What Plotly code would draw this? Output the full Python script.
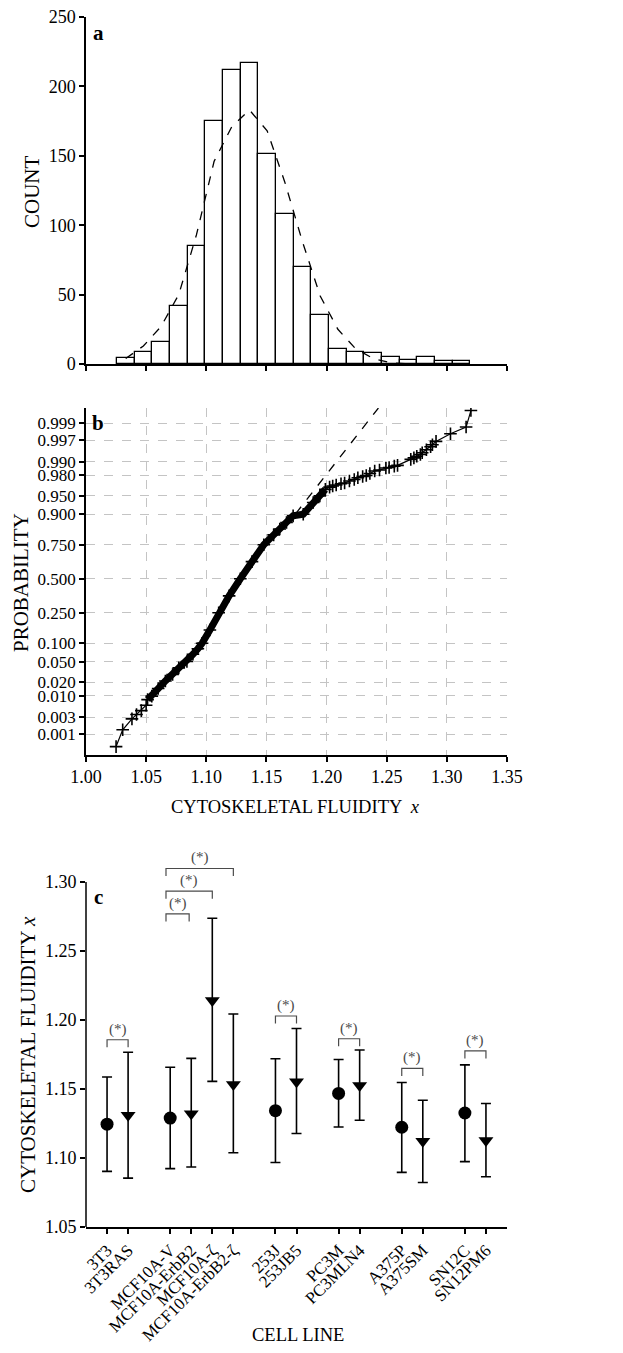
import plotly.graph_objects as go
from statistics import NormalDist

# ---------------- Panel a: histogram ----------------
hist_bin_centers = [1.0330, 1.0477, 1.0624, 1.0771, 1.0918, 1.1065, 1.1212, 1.1359, 1.1506, 1.1653,
                    1.1800, 1.1947, 1.2094, 1.2241, 1.2388, 1.2535, 1.2682, 1.2829, 1.2976, 1.3123]
hist_counts = [4, 9, 16, 42, 85, 175, 212, 217, 151, 108, 70, 35, 11, 9, 8, 5, 3, 5, 2, 2]
hist_bin_width = 0.0147
fit_curve_x = [1.0330, 1.0477, 1.0624, 1.0771, 1.0918, 1.1065, 1.1212, 1.1359, 1.1506, 1.1653,
               1.1800, 1.1947, 1.2094, 1.2241, 1.2388, 1.2535, 1.2682]
fit_curve_count = [3.9, 13, 27, 50, 93, 146, 171, 183, 168, 131, 88, 49, 25, 11, 4, 0.8, 0.1]

# ---------------- Panel b: normal probability plot ----------------
prob_low_x = [1.0250, 1.0305, 1.0382, 1.0420, 1.0460, 1.0500]
prob_low_p = [0.00043, 0.00135, 0.0027, 0.0035, 0.0044, 0.0060]
prob_body_x = [1.0512, 1.0547, 1.0600, 1.0660, 1.0720, 1.0771, 1.0839, 1.0889, 1.0930, 1.0965,
               1.1030, 1.1103, 1.1190, 1.1283, 1.1380, 1.1478, 1.1560, 1.1611, 1.1667, 1.1722,
               1.1806, 1.1889, 1.1944, 1.1990]
prob_body_p = [0.0082, 0.0099, 0.0146, 0.0212, 0.0287, 0.0384, 0.050, 0.0668, 0.0823, 0.100,
               0.154, 0.250, 0.367, 0.500, 0.633, 0.750, 0.808, 0.838, 0.868, 0.894,
               0.900, 0.935, 0.950, 0.962]
prob_high_x = [1.2025, 1.2051, 1.2080, 1.2120, 1.2150, 1.2190, 1.2230, 1.2260, 1.2300, 1.2330,
               1.2360, 1.2400, 1.2440, 1.2493, 1.2520, 1.2563, 1.2590, 1.2700, 1.2726, 1.2750,
               1.2780, 1.2795, 1.2830, 1.2865, 1.2880, 1.2910, 1.3030, 1.3160, 1.3200]
prob_high_p = [0.9656, 0.9671, 0.9686, 0.9704, 0.9713, 0.9738, 0.9756, 0.9775, 0.9788, 0.9798,
               0.9817, 0.9838, 0.9846, 0.9861, 0.9864, 0.9873, 0.9878, 0.9911, 0.9918, 0.9925,
               0.9932, 0.9938, 0.9948, 0.9956, 0.9961, 0.9968, 0.9980, 0.9987, 0.99958]
fit_line_x = [1.165, 1.2431]
fit_line_p = [0.843, 0.99965]
prob_ticks = [0.001, 0.003, 0.010, 0.020, 0.050, 0.100, 0.250, 0.500, 0.750, 0.900,
              0.950, 0.980, 0.990, 0.997, 0.999]
prob_tick_labels = ["0.001", "0.003", "0.010", "0.020", "0.050", "0.100", "0.250", "0.500",
                    "0.750", "0.900", "0.950", "0.980", "0.990", "0.997", "0.999"]
fluidity_ticks = [1.00, 1.05, 1.10, 1.15, 1.20, 1.25, 1.30, 1.35]
fluidity_tick_labels = ["1.00", "1.05", "1.10", "1.15", "1.20", "1.25", "1.30", "1.35"]

# ---------------- Panel c: cell lines ----------------
cell_lines = ["3T3", "3T3RAS", "MCF10A-V", "MCF10A-ErbB2", "MCF10A-ζ", "MCF10A-ErbB2-ζ",
              "253J", "253JB5", "PC3M", "PC3MLN4", "A375P", "A375SM", "SN12C", "SN12PM6"]
cell_pos = [1, 2, 4, 5, 6, 7, 9, 10, 12, 13, 15, 16, 18, 19]
cell_kind = ["parent", "derived", "parent", "derived", "derived", "derived",
             "parent", "derived", "parent", "derived", "parent", "derived", "parent", "derived"]
cell_mean = [1.1245, 1.1309, 1.1289, 1.1321, 1.2142, 1.1532, 1.1343, 1.1552,
             1.1468, 1.1525, 1.1223, 1.1122, 1.1326, 1.1127]
cell_upper = [1.1587, 1.1766, 1.1658, 1.1722, 1.2737, 1.2044, 1.1719, 1.1938,
              1.1714, 1.1783, 1.1547, 1.1419, 1.1675, 1.1395]
cell_lower = [1.0903, 1.0854, 1.0923, 1.0935, 1.1555, 1.1038, 1.0967, 1.1178,
              1.1225, 1.1274, 1.0896, 1.0822, 1.0974, 1.0864]
c_yticks = [1.05, 1.10, 1.15, 1.20, 1.25, 1.30]
c_ytick_labels = ["1.05", "1.10", "1.15", "1.20", "1.25", "1.30"]
sig_left = [1, 3.8, 3.8, 3.8, 9, 12, 15, 18]
sig_right = [2, 4.9, 6, 7, 10, 13, 16, 19]
sig_level = [1.1857, 1.2769, 1.2934, 1.3098, 1.2029, 1.1864, 1.1650, 1.1776]
sig_leg = 0.0055

FONT = "Liberation Serif"
BLACK = "#000000"

nd = NormalDist()
to_z = lambda ps: [nd.inv_cdf(p) for p in ps]

fig = go.Figure()

# Panel a
fig.add_trace(go.Bar(x=hist_bin_centers, y=hist_counts, width=hist_bin_width,
                     marker=dict(color="white", line=dict(color=BLACK, width=1.3)),
                     xaxis="x", yaxis="y", showlegend=False))
fig.add_trace(go.Scatter(x=fit_curve_x, y=fit_curve_count, mode="lines",
                         line=dict(color=BLACK, width=1.3, dash="dash"),
                         xaxis="x", yaxis="y", showlegend=False))

# Panel b
all_x = prob_low_x + prob_body_x + prob_high_x
all_p = prob_low_p + prob_body_p + prob_high_p
fig.add_trace(go.Scatter(x=fit_line_x, y=to_z(fit_line_p), mode="lines",
                         line=dict(color=BLACK, width=1.3, dash="dash"),
                         xaxis="x2", yaxis="y2", showlegend=False))
fig.add_trace(go.Scatter(x=prob_body_x, y=to_z(prob_body_p), mode="lines",
                         line=dict(color=BLACK, width=7),
                         xaxis="x2", yaxis="y2", showlegend=False))
fig.add_trace(go.Scatter(x=all_x, y=to_z(all_p), mode="lines+markers",
                         line=dict(color=BLACK, width=1.2),
                         marker=dict(symbol="cross-thin", size=9, line=dict(color=BLACK, width=1.6)),
                         xaxis="x2", yaxis="y2", showlegend=False))

# Panel c
for kind, sym in (("parent", "circle"), ("derived", "triangle-down")):
    idx = [i for i, k in enumerate(cell_kind) if k == kind]
    fig.add_trace(go.Scatter(
        x=[cell_pos[i] for i in idx], y=[cell_mean[i] for i in idx], mode="markers",
        marker=dict(symbol=sym, size=13, color=BLACK),
        error_y=dict(type="data", symmetric=False,
                     array=[cell_upper[i] - cell_mean[i] for i in idx],
                     arrayminus=[cell_mean[i] - cell_lower[i] for i in idx],
                     color=BLACK, thickness=1.6, width=5),
        xaxis="x3", yaxis="y3", showlegend=False, cliponaxis=False))

shapes = []
annotations = []
for l, r, lev in zip(sig_left, sig_right, sig_level):
    shapes.append(dict(type="path", xref="x3", yref="y3",
                       path=f"M {l},{lev - sig_leg} L {l},{lev} L {r},{lev} L {r},{lev - sig_leg}",
                       line=dict(color="#4a4a4a", width=1.2)))
    annotations.append(dict(x=(l + r) / 2, y=lev, xref="x3", yref="y3", text="(*)",
                            showarrow=False, yanchor="bottom", yshift=0,
                            font=dict(family=FONT, size=15, color="#4a4a4a")))
# y-axis line of panel c (only up to 1.30)
shapes.append(dict(type="line", xref="x3 domain", yref="y3", x0=0, x1=0,
                   y0=c_yticks[0], y1=c_yticks[-1], line=dict(color=BLACK, width=1.5)))


# The page body has an 8px default margin; the figure is sized so it fits the window.
PAGE_OFF = 8
W, H = 623 - PAGE_OFF, 1353 - PAGE_OFF
ml, mr, mt, mb = 86 - PAGE_OFF, 116, 17 - PAGE_OFF, 126
ph = H - mt - mb


def py(pix):
    # reference-pixel row -> paper fraction
    return (1353 - mb - pix) / ph


def ann(text, x, y, size, bold=False, angle=0, xshift=0, yshift=0, xanchor="center", yanchor="middle"):
    annotations.append(dict(text=f"<b>{text}</b>" if bold else text, x=x, y=y, xref="paper", yref="paper",
                            showarrow=False, textangle=angle, xshift=xshift, yshift=yshift,
                            xanchor=xanchor, yanchor=yanchor,
                            font=dict(family=FONT, size=size, color=BLACK)))


ann("a", 0, py(33), 21, bold=True, xshift=12)
ann("b", 0, py(423), 21, bold=True, xshift=12)
ann("c", 0, py(897), 21, bold=True, xshift=12)
ann("COUNT", 0, py(192), 21, angle=-90, xshift=32 - 86)
ann("PROBABILITY", 0, py(583), 21, angle=-90, xshift=21 - 86)
ann("CYTOSKELETAL FLUIDITY <i>x</i>", 0, py(1055), 21, angle=-90, xshift=28 - 86)
ann("CYTOSKELETAL FLUIDITY  <i>x</i>", 0.5, py(807), 18.5, xshift=-1)
ann("CELL LINE", 0.5, py(1335), 18.5, xshift=1)

axis_common = dict(showline=True, linecolor=BLACK, linewidth=1.5, ticks="outside", ticklen=5,
                   tickwidth=1.5, tickcolor=BLACK, zeroline=False, automargin=False,
                   ticklabeloverflow="allow",
                   tickfont=dict(family=FONT, size=18, color=BLACK))

fig.update_layout(
    width=W, height=H,
    margin=dict(l=ml, r=mr, t=mt, b=mb),
    paper_bgcolor="white", plot_bgcolor="white",
    font=dict(family=FONT, size=18, color=BLACK),
    showlegend=False,
    bargap=0,
    xaxis=dict(domain=[0, 1], range=[1.0, 1.35], anchor="y", tickvals=fluidity_ticks,
               showticklabels=False, showgrid=False, **axis_common),
    yaxis=dict(domain=[py(364), 1.0], range=[0, 250], anchor="x", tickvals=[0, 50, 100, 150, 200, 250],
               showgrid=False, **axis_common),
    xaxis2=dict(domain=[0, 1], range=[1.0, 1.35], anchor="y2", tickvals=fluidity_ticks,
                ticktext=fluidity_tick_labels, showgrid=True, gridcolor="#c4c4c4", gridwidth=1.2,
                griddash="dash", **axis_common),
    yaxis2=dict(domain=[py(755), py(408)], range=[-3.5, 3.39], anchor="x2",
                tickvals=to_z(prob_ticks), ticktext=prob_tick_labels, showgrid=True,
                gridcolor="#c4c4c4", gridwidth=1.2, griddash="dash",
                **{**axis_common, "tickfont": dict(family=FONT, size=17, color=BLACK)}),
    xaxis3=dict(domain=[0, 1], range=[0, 20], anchor="y3", tickvals=cell_pos, ticktext=cell_lines,
                tickangle=-45, showgrid=False,
                **{**axis_common, "tickfont": dict(family=FONT, size=17, color=BLACK)}),
    yaxis3=dict(domain=[0, py(840.6)], range=[1.05, 1.33], anchor="x3", tickvals=c_yticks,
                ticktext=c_ytick_labels, showgrid=False,
                **{**axis_common, "showline": False}),
    shapes=shapes,
    annotations=annotations,
)

fig.write_html("out.html")
